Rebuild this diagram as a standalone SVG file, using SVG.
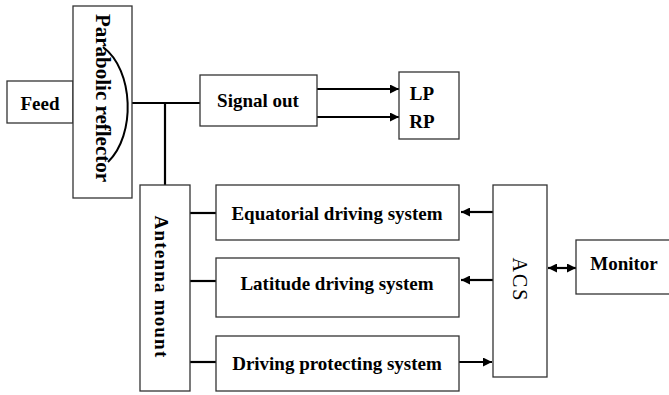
<svg xmlns="http://www.w3.org/2000/svg" width="669" height="395" viewBox="0 0 669 395">
<style>
  .box { fill: #fff; stroke: #333; stroke-width: 1.3; }
  .ln { fill: none; stroke: #000; stroke-width: 2.2; }
  .t { font-family: "Liberation Serif", "Times New Roman", serif; font-weight: bold; font-size: 19px; fill: #000; text-anchor: middle; dominant-baseline: central; }
  .n { font-weight: normal; }
</style>
<defs>
  <marker id="ah" viewBox="0 0 10 10" refX="10" refY="5" markerWidth="9" markerHeight="9" markerUnits="userSpaceOnUse" orient="auto-start-reverse">
    <path d="M0,0 L10,5 L0,10 Z" fill="#000"/>
  </marker>
</defs>
<rect width="669" height="395" fill="#fff"/>
<g id="connectors">
  <path class="ln" d="M132,103 H200"/>
  <path class="ln" d="M165,103 V185"/>
  <path class="ln" d="M317,89 H399" marker-end="url(#ah)"/>
  <path class="ln" d="M317,117 H399" marker-end="url(#ah)"/>
  <path class="ln" d="M190,213 H216"/>
  <path class="ln" d="M190,281 H216"/>
  <path class="ln" d="M190,362 H216"/>
  <path class="ln" d="M493,212 H461" marker-end="url(#ah)"/>
  <path class="ln" d="M493,280 H461" marker-end="url(#ah)"/>
  <path class="ln" d="M459,362 H492" marker-end="url(#ah)"/>
  <path class="ln" d="M548,268 H576" marker-start="url(#ah)" marker-end="url(#ah)"/>
</g>
<g id="feed">
  <rect class="box" x="7" y="81" width="66" height="42"/>
  <text class="t" x="40" y="103">Feed</text>
</g>
<g id="reflector">
  <rect class="box" x="73" y="6" width="59" height="192"/>
  <text class="t" transform="translate(103,98) rotate(90)" style="font-size:21px">Parabolic reflector</text>
  <path d="M103,47 C134,70 136,135 108,162" fill="none" stroke="#000" stroke-width="2"/>
</g>
<g id="signal-out">
  <rect class="box" x="200" y="75" width="117" height="51"/>
  <text class="t" x="258" y="100">Signal out</text>
</g>
<g id="lp-rp">
  <rect class="box" x="399" y="72" width="60" height="67"/>
  <text class="t" x="422" y="93">LP</text>
  <text class="t" x="422" y="121">RP</text>
</g>
<g id="antenna-mount">
  <rect class="box" x="140" y="185" width="50" height="206"/>
  <text class="t" transform="translate(161,287) rotate(90)" letter-spacing="1.2">Antenna mount</text>
</g>
<g id="equatorial">
  <rect class="box" x="216" y="185" width="243" height="55"/>
  <text class="t" x="337" y="213">Equatorial driving system</text>
</g>
<g id="latitude">
  <rect class="box" x="216" y="258" width="243" height="59"/>
  <text class="t" x="337" y="283">Latitude driving system</text>
</g>
<g id="protecting">
  <rect class="box" x="216" y="336" width="243" height="55"/>
  <text class="t" x="337" y="363">Driving protecting system</text>
</g>
<g id="acs">
  <rect class="box" x="493" y="185" width="54" height="192"/>
  <text class="t n" transform="translate(520,280) rotate(90)" style="font-size:20px" letter-spacing="2">ACS</text>
</g>
<g id="monitor">
  <rect class="box" x="576" y="240" width="100" height="54"/>
  <text class="t" x="624" y="263">Monitor</text>
</g>
</svg>
